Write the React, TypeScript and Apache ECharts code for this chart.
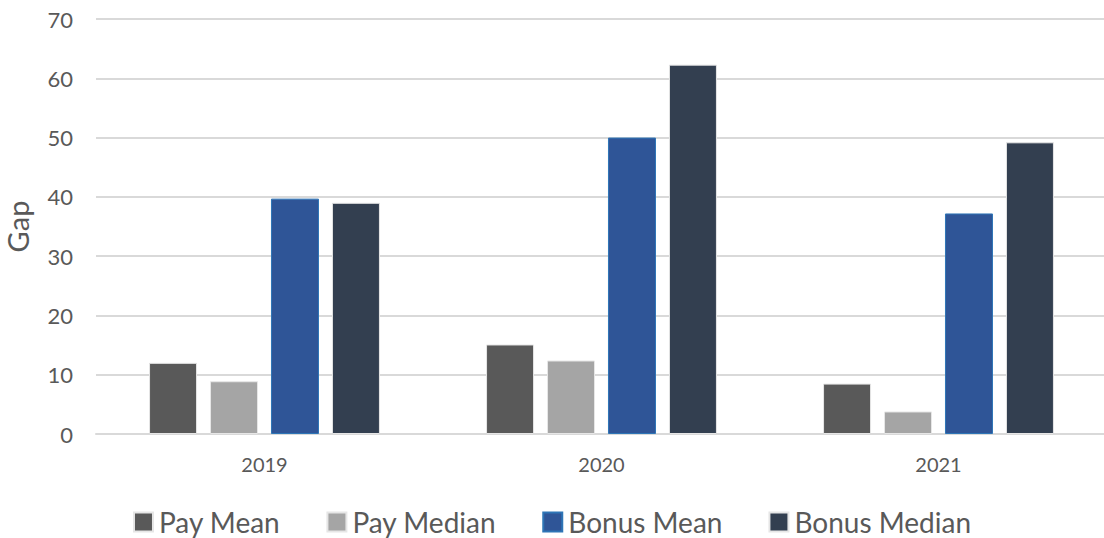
import React, { useEffect, useRef } from "react";
import * as echarts from "echarts";

const categories = ["2019", "2020", "2021"];
const payMean = [12.0, 15.1, 8.5];
const payMedian = [8.9, 12.4, 3.8];
const bonusMean = [39.7, 50.0, 37.2];
const bonusMedian = [39.0, 62.3, 49.2];
const seriesNames = ["Pay Mean", "Pay Median", "Bonus Mean", "Bonus Median"];

const FONT = "Lato, 'Noto Sans', sans-serif";

export default function App() {
  const ref = useRef<HTMLDivElement>(null);
  useEffect(() => {
    if (!ref.current) return;
    const chart = echarts.init(ref.current, null, { renderer: "svg" });
    const mk = (name: string, data: number[], color: string, border: string) => ({
      name,
      type: "bar",
      data,
      barWidth: 48,
      barGap: "27%",
      itemStyle: { color, borderColor: border, borderWidth: 1 },
    });
    chart.setOption({
      animation: false,
      textStyle: { fontFamily: FONT },
      grid: {
        left: 96,
        top: 19,
        width: 1011,
        height: 415,
        containLabel: false,
        outerBoundsMode: "none",
      },
      xAxis: {
        type: "category",
        data: categories,
        axisLine: { lineStyle: { color: "#d9d9d9", width: 2 } },
        axisTick: { show: false },
        axisLabel: { color: "#595959", fontSize: 20, margin: 20, fontFamily: FONT },
      },
      yAxis: {
        type: "value",
        min: 0,
        max: 70,
        interval: 10,
        name: "Gap",
        nameLocation: "middle",
        nameGap: 64,
        nameTextStyle: { color: "#595959", fontSize: 29, fontFamily: FONT },
        axisLine: { show: false },
        axisTick: { show: false },
        axisLabel: { color: "#595959", fontSize: 22, margin: 23, fontFamily: FONT },
        splitLine: { lineStyle: { color: "#d9d9d9", width: 2 } },
      },
      legend: {
        data: seriesNames,
        left: "center",
        top: 503,
        itemWidth: 19,
        itemHeight: 19,
        itemGap: 46,
        icon: "rect",
        textStyle: { color: "#595959", fontSize: 28, fontFamily: FONT, padding: [0, 0, 0, 1] },
      },
      series: [
        mk(seriesNames[0], payMean, "#595959", "#e6e6e6"),
        mk(seriesNames[1], payMedian, "#a5a5a5", "#e6e6e6"),
        mk(seriesNames[2], bonusMean, "#2f5597", "#2e75b6"),
        mk(seriesNames[3], bonusMedian, "#333f50", "#e6e6e6"),
      ],
    });
    return () => chart.dispose();
  }, []);
  return (
    <div
      ref={ref}
      style={{ position: "fixed", left: 0, top: 0, width: 1104, height: 538, background: "#fff" }}
    />
  );
}
